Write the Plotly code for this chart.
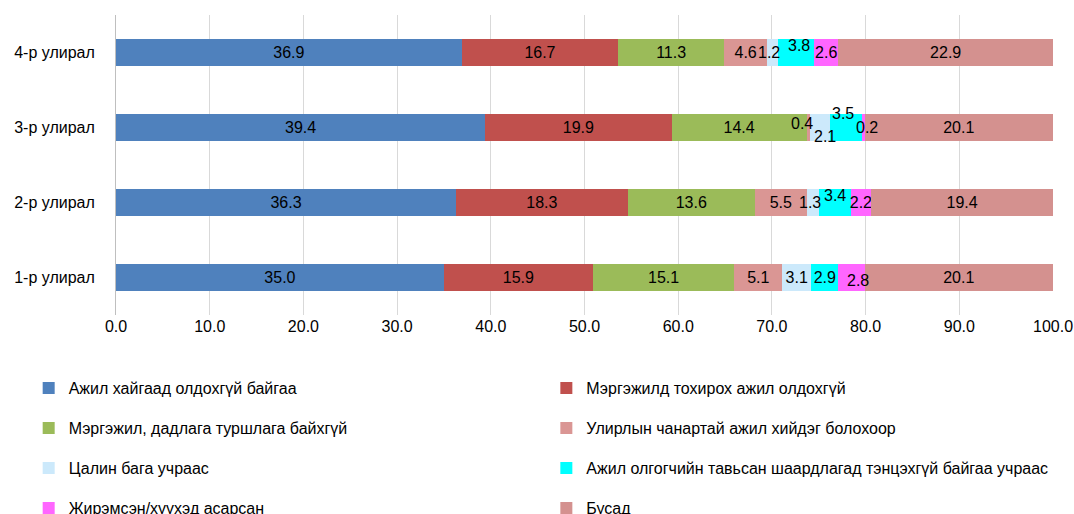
import plotly.graph_objects as go

quarters = ["1-р улирал", "2-р улирал", "3-р улирал", "4-р улирал"]

series_names = [
    "Ажил хайгаад олдохгүй байгаа",
    "Мэргэжилд тохирох ажил олдохгүй",
    "Мэргэжил, дадлага туршлага байхгүй",
    "Улирлын чанартай ажил хийдэг болохоор",
    "Цалин бага учраас",
    "Ажил олгогчийн тавьсан шаардлагад тэнцэхгүй байгаа учраас",
    "Жирэмсэн/хүүхэд асарсан",
    "Бусад",
]

# values per quarter (1-р .. 4-р)
not_found = [35.0, 36.3, 39.4, 36.9]
no_match = [15.9, 18.3, 19.9, 16.7]
no_experience = [15.1, 13.6, 14.4, 11.3]
seasonal = [5.1, 5.5, 0.4, 4.6]
low_salary = [3.1, 1.3, 2.1, 1.2]
not_qualified = [2.9, 3.4, 3.5, 3.8]
childcare = [2.8, 2.2, 0.2, 2.6]
other = [20.1, 19.4, 20.1, 22.9]

series_values = [not_found, no_match, no_experience, seasonal,
                 low_salary, not_qualified, childcare, other]

colors = ["#4F81BD", "#C0504D", "#9BBB59", "#DA9694",
          "#CCE9FB", "#00FFFF", "#FF66FF", "#D4918F"]

# labels drawn on top / nudged off-centre, (series index, quarter index): (xshift, yshift)
label_offsets = {
    (4, 3): (-4, 0),
    (5, 3): (3, 7),
    (4, 1): (-3, 0),
    (5, 1): (0, 7),
    (6, 0): (6, -3),
    (3, 2): (-6, 4),
    (4, 2): (5, -9),
    (5, 2): (-3, 14),
    (6, 2): (3, 0),
}

font_family = "Liberation Sans, Arial, sans-serif"
label_size = 16

fig = go.Figure()
annotations = []
cumulative = [0.0] * len(quarters)

for s_idx, (name, values, color) in enumerate(zip(series_names, series_values, colors)):
    texts = []
    for q_idx, v in enumerate(values):
        if (s_idx, q_idx) in label_offsets:
            texts.append("")
            dx, dy = label_offsets[(s_idx, q_idx)]
            annotations.append(dict(
                x=cumulative[q_idx] + v / 2, y=quarters[q_idx], xref="x", yref="y",
                text=f"{v:.1f}", showarrow=False, xshift=dx, yshift=dy,
                font=dict(size=label_size, color="#000000", family=font_family),
            ))
        else:
            texts.append(f"{v:.1f}")
    legend_id = "legend" if s_idx == 0 else f"legend{s_idx + 1}"
    fig.add_trace(go.Bar(
        y=quarters, x=values, name=name, orientation="h",
        marker=dict(color=color, line=dict(width=0)),
        text=texts, textposition="inside", insidetextanchor="middle",
        textangle=0, textfont=dict(size=label_size, color="#000000", family=font_family),
        legend=legend_id,
    ))
    cumulative = [c + v for c, v in zip(cumulative, values)]

# two legend columns, four rows (container coordinates)
legend_cols = [0.0267, 0.5087]
legend_rows = [0.245, 0.1672, 0.0894, 0.0116]
legend_layout = {}
for s_idx in range(len(series_names)):
    legend_id = "legend" if s_idx == 0 else f"legend{s_idx + 1}"
    legend_layout[legend_id] = dict(
        orientation="h", xref="container", yref="container",
        x=legend_cols[s_idx % 2], xanchor="left",
        y=legend_rows[s_idx // 2], yanchor="middle",
        itemwidth=30,
        font=dict(size=16, color="#000000", family=font_family),
        bgcolor="rgba(0,0,0,0)",
    )

fig.update_layout(
    width=1074, height=514,
    barmode="stack", bargap=0.64,
    plot_bgcolor="white", paper_bgcolor="white",
    margin=dict(l=116, r=21, t=15, b=199),
    font=dict(family=font_family, size=16, color="#000000"),
    uniformtext=dict(minsize=label_size, mode="show"),
    annotations=annotations,
    showlegend=True,
    **legend_layout,
)

fig.update_xaxes(
    range=[0, 100], dtick=10, tickformat=".1f",
    showgrid=True, gridcolor="#D9D9D9", gridwidth=1,
    zeroline=False, showline=False, ticks="", automargin=False,
    tickfont=dict(size=16, color="#000000"),
)
fig.update_yaxes(
    showgrid=False, showline=True, linecolor="#BFBFBF", linewidth=1,
    ticks="", ticklabelstandoff=17, automargin=False,
    tickfont=dict(size=16, color="#000000"),
)

# drop the default page margin so the figure fills the window exactly
fig.write_html(
    "out.html",
    config={"displayModeBar": False},
    post_script="document.body.style.margin='0';"
                "document.documentElement.style.overflow='hidden';",
)
